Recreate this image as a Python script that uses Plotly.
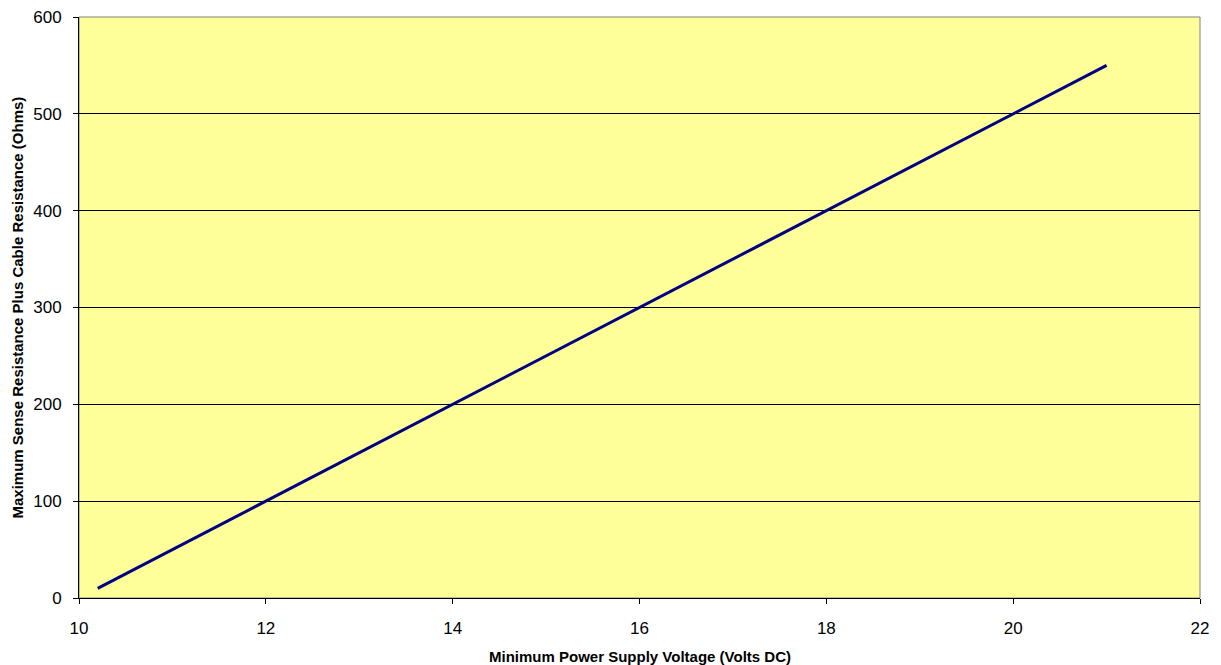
import plotly.graph_objects as go

voltage = [10.2, 12, 14, 16, 18, 20, 21]
resistance = [10, 100, 200, 300, 400, 500, 550]

x_title = "Minimum Power Supply Voltage (Volts DC)"
y_title = "Maximum Sense Resistance Plus Cable Resistance (Ohms)"

fig = go.Figure()
fig.add_trace(go.Scatter(x=voltage, y=resistance, mode="lines",
                         line=dict(color="#000080", width=3), showlegend=False))

font = "Liberation Sans, Arial, sans-serif"
fig.update_layout(
    width=1213, height=657,
    margin=dict(l=71, r=21, t=9, b=67),
    paper_bgcolor="white", plot_bgcolor="#FFFF99",
    font=dict(family=font, size=17, color="black"),
    shapes=[dict(type="rect", xref="paper", yref="paper", x0=0, y0=0, x1=1, y1=1,
                 line=dict(color="#808080", width=1), layer="below")],
    annotations=[
        dict(text="<b>%s</b>" % x_title, xref="paper", yref="paper", x=0.5, y=0,
             xanchor="center", yanchor="middle", yshift=-58, showarrow=False,
             font=dict(size=15)),
        dict(text="<b>%s</b>" % y_title, xref="paper", yref="paper", x=0, y=0.5,
             xanchor="center", yanchor="middle", xshift=-62, yshift=0, textangle=-90,
             showarrow=False, font=dict(size=15)),
    ],
)
fig.update_xaxes(range=[10, 22], dtick=2, tick0=10, showgrid=False, zeroline=False,
                 showline=True, linecolor="black", linewidth=1, automargin=False,
                 ticks="outside", ticklen=5, tickcolor="black",
                 ticklabelstandoff=10, ticklabeloverflow="allow", tickfont=dict(size=17))
fig.update_yaxes(range=[0, 600], dtick=100, showgrid=True, gridcolor="black", gridwidth=1,
                 zeroline=False, showline=True, linecolor="black", linewidth=1, automargin=False,
                 ticks="outside", ticklen=5, tickcolor="black",
                 ticklabelstandoff=8, ticklabeloverflow="allow", tickfont=dict(size=17))

fig.write_html("out.html")
